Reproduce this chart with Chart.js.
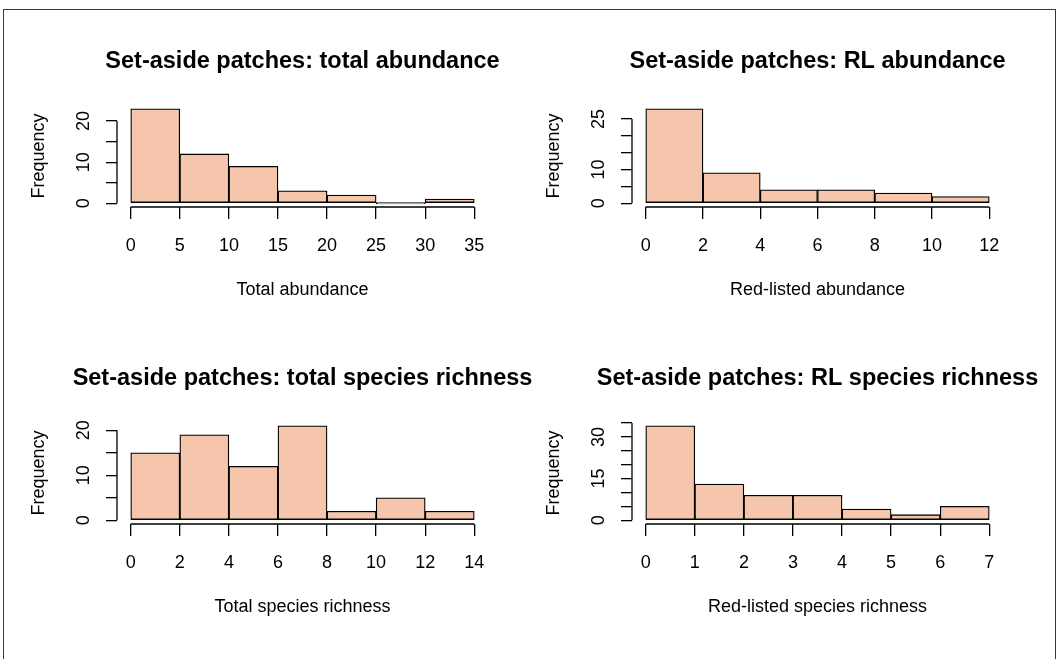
<!DOCTYPE html>
<html><head><meta charset="utf-8">
<script src="https://cdn.jsdelivr.net/npm/chart.js@4.4.1/dist/chart.umd.min.js"></script>
<style>
html,body{margin:0;padding:0;background:#fff;}
#wrap{position:relative;width:1057px;height:659px;overflow:hidden;background:#fff;}
#frame{position:absolute;left:3px;top:9px;width:1051px;height:700px;border-left:1px solid #3a3a3a;border-top:1px solid #3a3a3a;border-right:1px solid #3a3a3a;}
.pane{position:absolute;width:605px;height:317px;}
</style></head><body>
<div id="wrap"><div id="frame"></div>
<div class="pane" style="left:0px;top:0px"><canvas id="c1" width="605" height="317"></canvas></div>
<div class="pane" style="left:515px;top:0px"><canvas id="c2" width="605" height="317"></canvas></div>
<div class="pane" style="left:0px;top:317px"><canvas id="c3" width="605" height="317"></canvas></div>
<div class="pane" style="left:515px;top:317px"><canvas id="c4" width="605" height="317"></canvas></div>
</div>
<script>
// ---- data ----
const titles = ["Set-aside patches: total abundance", "Set-aside patches: RL abundance",
                "Set-aside patches: total species richness", "Set-aside patches: RL species richness"];
const xLabels = ["Total abundance", "Red-listed abundance", "Total species richness", "Red-listed species richness"];

const breaks1 = [0, 5, 10, 15, 20, 25, 30, 35];
const counts1 = [23, 12, 9, 3, 2, 0, 1];
const xTicks1 = [0, 5, 10, 15, 20, 25, 30, 35];
const yTicks1 = [0, 5, 10, 15, 20];
const yTickLabels1 = [0, 10, 20];

const breaks2 = [0, 2, 4, 6, 8, 10, 12];
const counts2 = [28, 9, 4, 4, 3, 2];
const xTicks2 = [0, 2, 4, 6, 8, 10, 12];
const yTicks2 = [0, 5, 10, 15, 20, 25];
const yTickLabels2 = [0, 10, 25];

const breaks3 = [0, 2, 4, 6, 8, 10, 12, 14];
const counts3 = [15, 19, 12, 21, 2, 5, 2];
const xTicks3 = [0, 2, 4, 6, 8, 10, 12, 14];
const yTicks3 = [0, 5, 10, 15, 20];
const yTickLabels3 = [0, 10, 20];

const breaks4 = [0, 1, 2, 3, 4, 5, 6, 7];
const counts4 = [34, 13, 9, 9, 4, 2, 5];
const xTicks4 = [0, 1, 2, 3, 4, 5, 6, 7];
const yTicks4 = [0, 5, 10, 15, 20, 25, 30, 35];
const yTickLabels4 = [0, 15, 30];

// ---- drawing ----
const FAMILY = "'Liberation Sans', Arial, Helvetica, sans-serif";
const FILL = '#F5C6AB';

const axisLines = {
  id: 'axisLines',
  afterDraw(chart) {
    const ctx = chart.ctx, xs = chart.scales.x, ys = chart.scales.y, ca = chart.chartArea;
    const xt = xs.ticks, yt = ys.ticks;
    ctx.save();
    ctx.strokeStyle = '#000';
    ctx.lineWidth = 1.3;
    ctx.beginPath();
    ctx.moveTo(xs.getPixelForValue(xt[0].value), ca.bottom);
    ctx.lineTo(xs.getPixelForValue(xt[xt.length - 1].value), ca.bottom);
    ctx.moveTo(ca.left, ys.getPixelForValue(yt[0].value));
    ctx.lineTo(ca.left, ys.getPixelForValue(yt[yt.length - 1].value));
    ctx.stroke();
    ctx.restore();
  }
};

function makeHist(id, title, xLabel, breaks, counts, xTicks, yTicks, yTickLabels) {
  const maxC = Math.max(...counts);
  const b0 = breaks[0], bN = breaks[breaks.length - 1];
  const span = bN - b0;
  const pts = counts.map((c, i) => ({ x: (breaks[i] + breaks[i + 1]) / 2, y: c }));
  new Chart(document.getElementById(id), {
    type: 'bar',
    data: {
      datasets: [{
        data: pts,
        backgroundColor: FILL,
        borderColor: '#000',
        borderWidth: 1.3,
        borderSkipped: false,
        minBarLength: 1.5,
        barPercentage: 1,
        categoryPercentage: 1
      }]
    },
    options: {
      responsive: false,
      animation: false,
      devicePixelRatio: 1,
      events: [],
      layout: { padding: 0 },
      plugins: {
        legend: { display: false },
        tooltip: { enabled: false },
        title: {
          display: true, text: title, color: '#000', fullSize: true,
          font: { family: FAMILY, size: 23.5, weight: 'bold', lineHeight: 1.2 },
          padding: { top: 47, bottom: 29.8 }
        }
      },
      scales: {
        x: {
          type: 'linear', min: b0 - 0.04 * span, max: bN + 0.04 * span,
          offset: false, bounds: 'data',
          afterBuildTicks: s => { s.ticks = xTicks.map(v => ({ value: v })); },
          afterFit: s => { s.height = 110; },
          border: { display: false },
          grid: { drawOnChartArea: false, offset: false, drawTicks: true, tickLength: 12, color: '#000', lineWidth: 1.3 },
          ticks: { autoSkip: false, minRotation: 0, maxRotation: 0, padding: 16, color: '#000',
                   font: { family: FAMILY, size: 18 } },
          title: { display: true, text: xLabel, color: '#000', font: { family: FAMILY, size: 18, lineHeight: 1.2 },
                   padding: { top: 0, bottom: 16.2 } }
        },
        y: {
          type: 'linear', position: 'left', min: -0.04 * maxC, max: 1.04 * maxC, bounds: 'data',
          afterBuildTicks: s => { s.ticks = yTicks.map(v => ({ value: v })); },
          afterFit: s => { s.width = 117; },
          border: { display: false },
          grid: { drawOnChartArea: false, drawTicks: true, tickLength: 11, color: '#000', lineWidth: 1.3 },
          ticks: { autoSkip: false, minRotation: 90, maxRotation: 90, crossAlign: 'center', padding: 11.5,
                   color: '#000', font: { family: FAMILY, size: 18 },
                   callback: v => yTickLabels.includes(v) ? String(v) : '' },
          title: { display: true, text: 'Frequency', color: '#000', font: { family: FAMILY, size: 18, lineHeight: 1.2 },
                   padding: { top: 28.2, bottom: 0 } }
        },
        yr: {
          type: 'linear', position: 'right', display: true,
          afterFit: s => { s.width = 117; },
          border: { display: false },
          grid: { display: false },
          ticks: { display: false }
        }
      }
    },
    plugins: [axisLines]
  });
}

makeHist('c1', titles[0], xLabels[0], breaks1, counts1, xTicks1, yTicks1, yTickLabels1);
makeHist('c2', titles[1], xLabels[1], breaks2, counts2, xTicks2, yTicks2, yTickLabels2);
makeHist('c3', titles[2], xLabels[2], breaks3, counts3, xTicks3, yTicks3, yTickLabels3);
makeHist('c4', titles[3], xLabels[3], breaks4, counts4, xTicks4, yTicks4, yTickLabels4);
</script>
</body></html>
